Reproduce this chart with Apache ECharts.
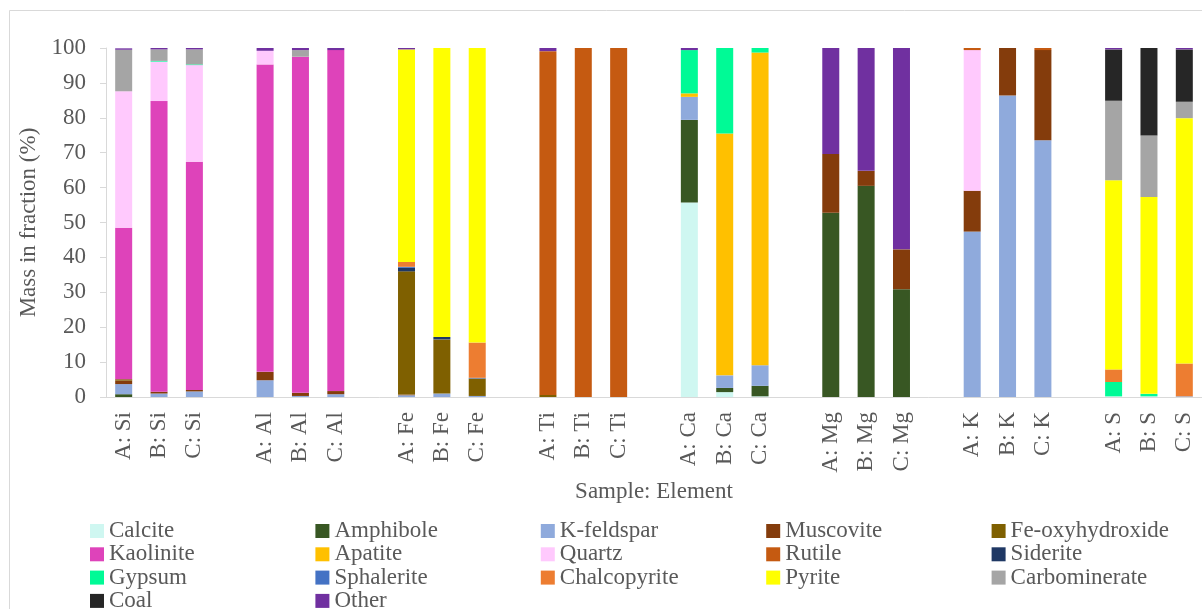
<!DOCTYPE html>
<html>
<head>
<meta charset="utf-8">
<title>Mass in fraction by sample and element</title>
<script src="https://cdn.jsdelivr.net/npm/echarts@6/dist/echarts.min.js"></script>
<style>
  html, body { margin: 0; padding: 0; background: #ffffff; }
  #chart { width: 1202px; height: 609px; }
</style>
</head>
<body>
<div id="chart"></div>
<script>
// Elements and samples; each mineral array lists A/B/C for Si, Al, Fe, Ti, Ca, Mg, K, S
const elements = ['Si', 'Al', 'Fe', 'Ti', 'Ca', 'Mg', 'K', 'S'];
const samples = ['A', 'B', 'C'];
const yTicks = [0, 10, 20, 30, 40, 50, 60, 70, 80, 90, 100];

//                  Si              Al              Fe               Ti             Ca               Mg               K                S
const calcite      = [0, 0, 0,       0, 0, 0,        0, 0, 0,         0, 0, 0,       55.7, 1.4, 0.2,  0, 0, 0,         0, 0, 0,         0.2, 0.2, 0];
const amphibole    = [0.8, 0, 0,     0, 0, 0,        0, 0, 0,         0, 0, 0,       23.7, 1.2, 3.0,  52.8, 60.5, 30.9, 0, 0, 0,        0, 0, 0];
const kFeldspar    = [2.9, 1.0, 1.6, 4.8, 0.3, 0.8,  0.5, 1.0, 0.3,   0, 0, 0,       6.6, 3.6, 5.9,   0, 0, 0,         47.4, 86.4, 73.6, 0, 0, 0.2];
const muscovite    = [1.0, 0.5, 0.4, 2.4, 0.9, 0.9,  0.2, 0, 0,       0, 0, 0,       0, 0, 0,         16.8, 4.3, 11.4, 11.7, 13.6, 25.8, 0, 0, 0];
const feOxy        = [0.4, 0, 0,     0, 0, 0,        35.3, 15.5, 5.0, 0.6, 0, 0,     0, 0, 0,         0, 0, 0,         0, 0, 0,         0, 0, 0];
const kaolinite    = [43.4, 83.3, 65.4, 88.1, 96.3, 97.7, 0, 0, 0,    0, 0, 0,       0, 0, 0,         0, 0, 0,         0, 0, 0,         0, 0, 0];
const apatite      = [0, 0, 0,       0, 0, 0,        0, 0, 0,         0, 0, 0,       1.0, 69.3, 89.6, 0, 0, 0,         0, 0, 0,         0, 0, 0];
const quartz       = [39.1, 11.3, 27.7, 3.9, 0, 0,   0, 0, 0,         0, 0, 0,       0, 0, 0,         0, 0, 0,         40.3, 0, 0,      0, 0, 0];
const rutile       = [0, 0, 0,       0, 0, 0,        0, 0, 0,         98.5, 100, 100, 0, 0, 0,        0, 0, 0,         0.6, 0, 0.6,     0, 0, 0];
const siderite     = [0, 0, 0,       0, 0, 0,        1.0, 0.7, 0,     0, 0, 0,       0, 0, 0,         0, 0, 0,         0, 0, 0,         0, 0, 0];
const gypsum       = [0, 0.2, 0.2,   0, 0, 0,        0, 0, 0,         0, 0, 0,       12.4, 24.5, 1.3, 0, 0, 0,         0, 0, 0,         4.1, 0.7, 0];
const sphalerite   = [0, 0, 0,       0, 0, 0,        0.3, 0, 0.2,     0, 0, 0,       0, 0, 0,         0, 0, 0,         0, 0, 0,         0, 0, 0];
const chalcopyrite = [0, 0, 0,       0, 0, 0,        1.4, 0, 10.1,    0, 0, 0,       0, 0, 0,         0, 0, 0,         0, 0, 0,         3.6, 0, 9.4];
const pyrite       = [0, 0, 0,       0, 0, 0,        60.9, 82.8, 84.4, 0, 0, 0,      0, 0, 0,         0, 0, 0,         0, 0, 0,         54.2, 56.4, 70.3];
const carbomin     = [11.9, 3.3, 4.3, 0, 1.9, 0,     0, 0, 0,         0, 0, 0,       0, 0, 0,         0, 0, 0,         0, 0, 0,         22.8, 17.6, 4.7];
const coal         = [0, 0, 0,       0, 0, 0,        0, 0, 0,         0, 0, 0,       0, 0, 0,         0, 0, 0,         0, 0, 0,         14.7, 25.1, 15.0];
const other        = [0.4, 0.4, 0.4, 0.8, 0.6, 0.6,  0.4, 0, 0,       0.9, 0, 0,     0.6, 0, 0,       30.4, 35.2, 57.7, 0, 0, 0,         0.4, 0, 0.4];

// Stacking order, bottom to top
const minerals = [
  { name: 'Calcite',         values: calcite,      color: '#CFF7F1' },
  { name: 'Amphibole',       values: amphibole,    color: '#385723' },
  { name: 'K-feldspar',      values: kFeldspar,    color: '#8FAADC' },
  { name: 'Muscovite',       values: muscovite,    color: '#843C0C' },
  { name: 'Fe-oxyhydroxide', values: feOxy,        color: '#7F6000' },
  { name: 'Kaolinite',       values: kaolinite,    color: '#DE43BA' },
  { name: 'Apatite',         values: apatite,      color: '#FFC000' },
  { name: 'Quartz',          values: quartz,       color: '#FFC9FD' },
  { name: 'Rutile',          values: rutile,       color: '#C55A11' },
  { name: 'Siderite',        values: siderite,     color: '#1F3864' },
  { name: 'Gypsum',          values: gypsum,       color: '#00FA96' },
  { name: 'Sphalerite',      values: sphalerite,   color: '#4472C4' },
  { name: 'Chalcopyrite',    values: chalcopyrite, color: '#ED7D31' },
  { name: 'Pyrite',          values: pyrite,       color: '#FFFF00' },
  { name: 'Carbominerate',   values: carbomin,     color: '#A5A5A5' },
  { name: 'Coal',            values: coal,         color: '#262626' },
  { name: 'Other',           values: other,        color: '#7030A0' }
];

// Category axis: three samples per element, one empty slot between elements
const categories = [];
const slotIndex = [];
elements.forEach((el, e) => {
  if (e > 0) categories.push('');
  samples.forEach(s => {
    slotIndex.push(categories.length);
    categories.push(s + ': ' + el);
  });
});

function spread(values) {
  const out = categories.map(() => null);
  values.forEach((v, i) => { out[slotIndex[i]] = v > 0 ? v : null; });
  return out;
}

const FONT = 'Liberation Serif';
const TEXT = '#595959';
const LINE = '#D9D9D9';

// Legend: five columns, items laid out row by row
const legends = minerals.map((m, i) => ({
  data: [m.name],
  left: 90 + (i % 5) * 225.4,
  top: 519.5 + Math.floor(i / 5) * 23.3,
  itemWidth: 14,
  itemHeight: 14,
  padding: 0,
  selectedMode: false,
  icon: 'rect',
  textStyle: { fontFamily: FONT, fontSize: 23, color: TEXT, lineHeight: 23 }
}));

const chart = echarts.init(document.getElementById('chart'), null, { renderer: 'canvas' });
chart.setOption({
  animation: false,
  backgroundColor: '#ffffff',
  graphic: [{
    type: 'rect',
    shape: { x: 9.5, y: 10.5, width: 1200, height: 610 },
    style: { fill: 'none', stroke: LINE, lineWidth: 1 },
    silent: true
  }],
  grid: { left: 106, top: 48, width: 1097, height: 349 },
  legend: legends,
  xAxis: {
    type: 'category',
    data: categories,
    name: 'Sample: Element',
    nameLocation: 'middle',
    nameGap: 76,
    nameTextStyle: { fontFamily: FONT, fontSize: 23, color: TEXT },
    axisLine: { lineStyle: { color: LINE, width: 1 } },
    axisTick: { show: false },
    axisLabel: {
      interval: 0,
      rotate: 90,
      margin: 15,
      fontFamily: FONT,
      fontSize: 23,
      color: TEXT
    }
  },
  yAxis: {
    type: 'value',
    min: yTicks[0],
    max: yTicks[yTicks.length - 1],
    interval: yTicks[1] - yTicks[0],
    name: 'Mass in fraction (%)',
    nameLocation: 'middle',
    nameGap: 62,
    nameRotate: 90,
    nameTextStyle: { fontFamily: FONT, fontSize: 23, color: TEXT },
    axisLine: { show: true, lineStyle: { color: LINE, width: 1 } },
    axisTick: { show: true, length: 6, lineStyle: { color: LINE } },
    splitLine: { show: false },
    axisLabel: { margin: 20, fontFamily: FONT, fontSize: 23, color: TEXT }
  },
  series: minerals.map(m => ({
    name: m.name,
    type: 'bar',
    stack: 'mass',
    barWidth: 17,
    itemStyle: { color: m.color },
    data: spread(m.values)
  }))
});
</script>
</body>
</html>
